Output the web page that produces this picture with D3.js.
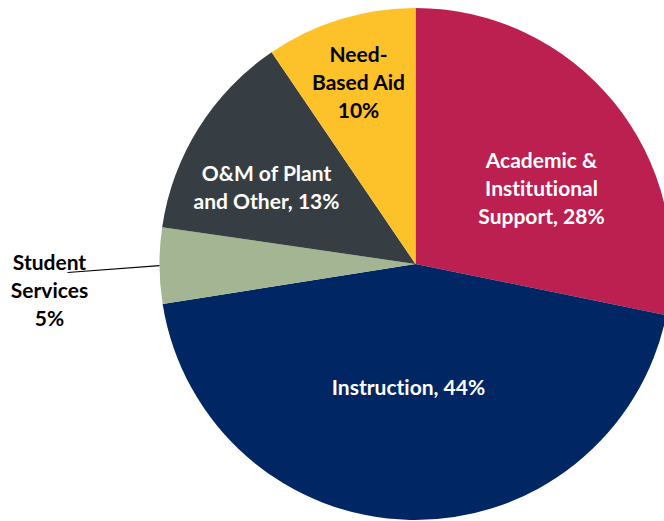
<!DOCTYPE html>
<html>
<head>
<meta charset="utf-8">
<script src="https://cdn.jsdelivr.net/npm/d3@7"></script>
<style>
  body { margin: 0; background: #fff; }
  svg { display: block; }
  text { font-family: Lato, "Open Sans", sans-serif; font-weight: 700; font-variant-ligatures: none; }
</style>
</head>
<body>
<svg id="chart" width="664" height="521"></svg>
<script>
// spending shares, clockwise from 12 o'clock
var categories = ["Academic & Institutional Support", "Instruction", "Student Services", "O&M of Plant and Other", "Need-Based Aid"];
var shares = [28.2, 44.3, 4.8, 13.2, 9.5];
var labelLines = [
  ["Academic &", "Institutional", "Support, 28%"],
  ["Instruction, 44%"],
  ["Student", "Services", "5%"],
  ["O&M of Plant", "and Other, 13%"],
  ["Need-", "Based Aid", "10%"]
];

var colors = ["#BC2051", "#002663", "#A3B592", "#373E43", "#FDC12A"];
var textColors = ["#fff", "#fff", "#000", "#fff", "#000"];
// label centre offsets from pie centre
var labelPos = [[126, -76], [-7, 123], [-366, 26], [-149, -77], [-57, -182]];

var cx = 415.5, cy = 264, radius = 256;
var lineH = 28;

var svg = d3.select("#chart");
var g = svg.append("g").attr("transform", "translate(" + cx + "," + cy + ")");

var pie = d3.pie().sort(null).value(function(d){ return d; });
var arc = d3.arc().innerRadius(0).outerRadius(radius);
var arcs = pie(shares);

g.selectAll("path.slice")
  .data(arcs)
  .enter().append("path")
  .attr("class", "slice")
  .attr("d", arc)
  .attr("fill", function(d, i){ return colors[i]; });

// leader line for the small slice
var small = arcs[2];
var mid = (small.startAngle + small.endAngle) / 2;
g.append("line")
  .attr("x1", -348)
  .attr("y1", 8.5)
  .attr("x2", Math.sin(mid) * radius)
  .attr("y2", -Math.cos(mid) * radius)
  .attr("stroke", "#000")
  .attr("stroke-width", 1.2);

arcs.forEach(function(a, i){
  var lines = labelLines[i];
  var t = g.append("text")
    .attr("text-anchor", "middle")
    .attr("fill", textColors[i])
    .attr("font-size", "21px")
    .attr("x", labelPos[i][0])
    .attr("y", labelPos[i][1] - (lines.length - 1) * lineH / 2);
  lines.forEach(function(s, k){
    t.append("tspan")
      .attr("x", labelPos[i][0])
      .attr("dy", k == 0 ? "0.36em" : lineH)
      .text(s);
  });
});
</script>
</body>
</html>
